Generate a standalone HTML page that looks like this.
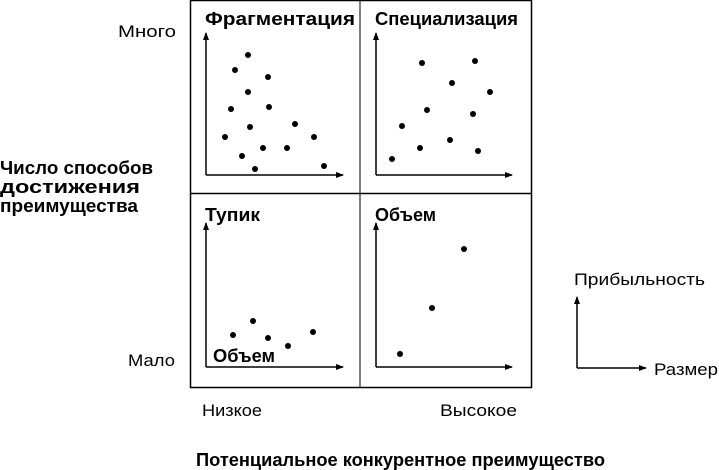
<!DOCTYPE html>
<html><head><meta charset="utf-8"><style>
body{margin:0;background:#fff}
svg{display:block}
text{font-family:"Liberation Sans","DejaVu Sans",sans-serif;fill:#000}
.b{font-weight:bold;font-size:18px}
.r{font-size:16.5px}
</style></head><body>
<svg width="719" height="470" viewBox="0 0 719 470">
<defs><marker id="a" markerWidth="8" markerHeight="8" refX="7" refY="4" orient="auto" markerUnits="userSpaceOnUse"><path d="M0,1 L8,4 L0,7Z" fill="#000"/></marker></defs>
<rect x="190.5" y="0.5" width="341" height="387" fill="none" stroke="#000" stroke-width="1.5"/>
<line x1="360" y1="0" x2="360" y2="388" stroke="#000" stroke-width="1"/>
<line x1="190" y1="193.5" x2="532" y2="193.5" stroke="#000" stroke-width="1.5"/>
<g stroke="#000" stroke-width="1.5" fill="none" marker-end="url(#a)">
<polyline points="206,175 206,33" /><line x1="206" y1="175" x2="343" y2="175"/>
<line x1="376" y1="175" x2="376" y2="33"/><line x1="376" y1="175" x2="512" y2="175"/>
<line x1="206" y1="367" x2="206" y2="223"/><line x1="206" y1="367" x2="343" y2="367"/>
<line x1="376" y1="367" x2="376" y2="223"/><line x1="376" y1="367" x2="512" y2="367"/>
<line x1="577" y1="368" x2="577" y2="297"/><line x1="577" y1="368" x2="646" y2="368"/>
</g>
<g fill="#000">
<circle cx="248" cy="55" r="3"/><circle cx="235" cy="70" r="3"/><circle cx="268" cy="77" r="3"/><circle cx="248" cy="92" r="3"/><circle cx="231" cy="109" r="3"/><circle cx="269" cy="107" r="3"/><circle cx="250" cy="127" r="3"/><circle cx="295" cy="124" r="3"/><circle cx="225" cy="137" r="3"/><circle cx="314" cy="137" r="3"/><circle cx="263" cy="148" r="3"/><circle cx="287" cy="148" r="3"/><circle cx="242" cy="156" r="3"/><circle cx="324" cy="166" r="3"/><circle cx="255" cy="169" r="3"/>
<circle cx="422" cy="63" r="3"/><circle cx="475" cy="61" r="3"/><circle cx="452" cy="83" r="3"/><circle cx="490" cy="92" r="3"/><circle cx="427" cy="110" r="3"/><circle cx="473" cy="114" r="3"/><circle cx="402" cy="126" r="3"/><circle cx="450" cy="140" r="3"/><circle cx="420" cy="148" r="3"/><circle cx="478" cy="151" r="3"/><circle cx="392" cy="159" r="3"/>
<circle cx="233" cy="335" r="3"/><circle cx="253" cy="321" r="3"/><circle cx="268" cy="338" r="3"/><circle cx="288" cy="346" r="3"/><circle cx="313" cy="332" r="3"/>
<circle cx="464" cy="249" r="3"/><circle cx="432" cy="308" r="3"/><circle cx="400" cy="354" r="3"/>
</g>
<text class="b" x="205" y="25" textLength="150" lengthAdjust="spacingAndGlyphs">Фрагментация</text>
<text class="b" x="375" y="25" textLength="143" lengthAdjust="spacingAndGlyphs">Специализация</text>
<text class="b" x="205" y="221" textLength="55" lengthAdjust="spacingAndGlyphs">Тупик</text>
<text class="b" x="375" y="221" textLength="61" lengthAdjust="spacingAndGlyphs">Объем</text>
<text class="b" x="213" y="362" textLength="62" lengthAdjust="spacingAndGlyphs">Объем</text>
<text class="r" x="118" y="37" textLength="58" lengthAdjust="spacingAndGlyphs">Много</text>
<text class="r" x="128" y="366" textLength="47" lengthAdjust="spacingAndGlyphs">Мало</text>
<text class="b" x="0" y="174" textLength="153" lengthAdjust="spacingAndGlyphs">Число способов</text>
<text class="b" x="0" y="193" textLength="140" lengthAdjust="spacingAndGlyphs">достижения</text>
<text class="b" x="0" y="212" textLength="138" lengthAdjust="spacingAndGlyphs">преимущества</text>
<text class="r" x="202" y="416" textLength="60" lengthAdjust="spacingAndGlyphs">Низкое</text>
<text class="r" x="440" y="416" textLength="77" lengthAdjust="spacingAndGlyphs">Высокое</text>
<text class="b" x="196" y="466" textLength="409" lengthAdjust="spacingAndGlyphs">Потенциальное конкурентное преимущество</text>
<text class="r" x="574" y="285" textLength="131" lengthAdjust="spacingAndGlyphs">Прибыльность</text>
<text class="r" x="654" y="375" textLength="64" lengthAdjust="spacingAndGlyphs">Размер</text>
</svg>
</body></html>
